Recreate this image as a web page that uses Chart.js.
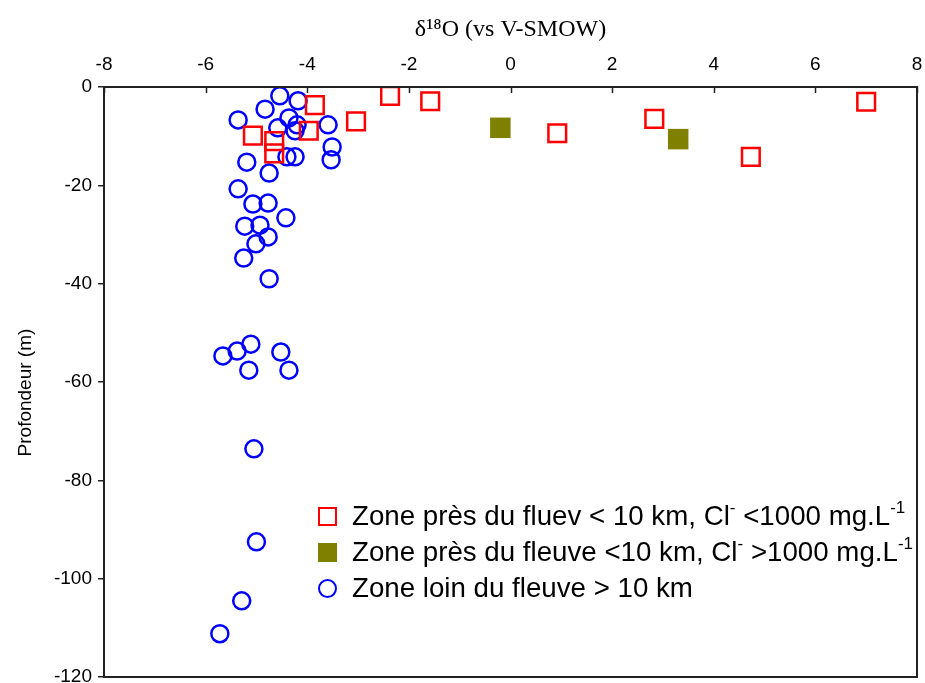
<!DOCTYPE html>
<html>
<head>
<meta charset="utf-8">
<script src="https://cdn.jsdelivr.net/npm/chart.js@4.4.1/dist/chart.umd.min.js"></script>
<style>
  html, body { margin: 0; padding: 0; background: #fff; }
  #wrap { position: relative; width: 925px; height: 683px; }
  #legend { position: absolute; left: 318px; top: 498px; font-family: 'Liberation Sans', Arial, sans-serif; font-size: 27.7px; color: #000; }
  #legend .row { height: 36px; line-height: 36px; white-space: nowrap; }
  #legend .mk { display: inline-block; box-sizing: border-box; width: 19px; height: 19px; vertical-align: -1px; margin-right: 15px; }
  #legend sup { font-size: 17px; vertical-align: 12px; line-height: 0; }
</style>
</head>
<body>
<div id="wrap">
  <canvas id="chart" width="925" height="683"></canvas>
  <div id="legend">
    <div class="row"><span class="mk" style="border:2.5px solid #ff0000"></span>Zone près du fluev &lt; 10 km, Cl<sup>-</sup> &lt;1000 mg.L<sup>-1</sup></div>
    <div class="row"><span class="mk" style="background:#808000"></span>Zone près du fleuve &lt;10 km, Cl<sup>-</sup> &gt;1000 mg.L<sup>-1</sup></div>
    <div class="row"><span class="mk" style="border:2.5px solid #0000ff;border-radius:50%"></span>Zone loin du fleuve &gt; 10 km</div>
  </div>
</div>
<script>
// delta 18O (x) vs depth (y)
const nearLowX = [7.0, 4.73, 2.83, 0.92, -1.58, -2.37, -3.04, -3.85, -3.97, -5.07, -4.65, -4.65];
const nearLowY = [-3.0, -14.2, -6.5, -9.4, -2.9, -1.8, -7.0, -3.7, -8.9, -9.9, -11.0, -13.5];

const nearHighX = [-0.2, 3.3];
const nearHighY = [-8.3, -10.6];

const farX = [-4.54, -4.18, -4.83, -5.36, -4.36, -4.20, -3.59, -4.58, -4.24, -3.51, -3.53, -5.19,
  -4.40, -4.24, -4.75, -5.36, -5.07, -4.77, -4.42, -5.23, -4.93, -4.77, -5.01, -5.25, -4.75,
  -5.66, -5.38, -5.11, -5.15, -4.52, -4.36, -5.05, -5.0, -5.29, -5.72];
const farY = [-1.8, -2.8, -4.5, -6.7, -6.3, -7.7, -7.7, -8.3, -8.9, -12.2, -14.8, -15.3,
  -14.2, -14.2, -17.5, -20.7, -23.8, -23.6, -26.6, -28.3, -28.1, -30.5, -31.9, -34.8, -39.0,
  -54.7, -53.7, -52.3, -57.6, -53.9, -57.6, -73.6, -92.5, -104.5, -111.2];

const xTicks = [-8, -6, -4, -2, 0, 2, 4, 6, 8];
const yTicks = [0, -20, -40, -60, -80, -100, -120];

function pts(xs, ys) {
    return xs.map((x, i) => ({ x: x, y: ys[i] }));
}

// frame around the plot + short ticks inside the top edge
const framePlugin = {
    id: 'frame',
    afterDraw(chart) {
        const ctx = chart.ctx;
        const a = chart.chartArea;
        const xs = chart.scales.x;
        ctx.save();
        ctx.strokeStyle = '#222';
        ctx.lineWidth = 2;
        ctx.strokeRect(a.left, a.top, a.right - a.left, a.bottom - a.top);
        ctx.lineWidth = 1.5;
        xTicks.forEach(v => {
            const px = Math.round(xs.getPixelForValue(v)) + 0.5;
            ctx.beginPath();
            ctx.moveTo(px, a.top);
            ctx.lineTo(px, a.top + 6);
            ctx.stroke();
        });
        ctx.restore();
    }
};

const tickFont = { family: "'Liberation Sans', Arial, sans-serif", size: 19 };

new Chart(document.getElementById('chart'), {
    type: 'scatter',
    data: {
        datasets: [{
            label: 'Zone près du fluev < 10 km, Cl- <1000 mg.L-1',
            data: pts(nearLowX, nearLowY),
            pointStyle: 'rect',
            pointRadius: 12.5,
            pointHoverRadius: 12.5,
            borderColor: '#ff0000',
            backgroundColor: 'rgba(0,0,0,0)',
            borderWidth: 2.5
        }, {
            label: 'Zone près du fleuve <10 km, Cl- >1000 mg.L-1',
            data: pts(nearHighX, nearHighY),
            pointStyle: 'rect',
            pointRadius: 14.5,
            pointHoverRadius: 14.5,
            borderColor: '#808000',
            backgroundColor: '#808000',
            borderWidth: 0
        }, {
            label: 'Zone loin du fleuve > 10 km',
            data: pts(farX, farY),
            pointStyle: 'circle',
            pointRadius: 8.5,
            pointHoverRadius: 8.5,
            borderColor: '#0000ff',
            backgroundColor: 'rgba(0,0,0,0)',
            borderWidth: 2.5
        }]
    },
    options: {
        responsive: false,
        animation: false,
        layout: { autoPadding: false, padding: { left: 0, right: 8, top: 0, bottom: 6 } },
        plugins: { legend: { display: false }, tooltip: { enabled: false } },
        scales: {
            x: {
                type: 'linear',
                position: 'top',
                min: -8,
                max: 8,
                afterBuildTicks: s => { s.ticks = xTicks.map(v => ({ value: v })); },
                afterFit: s => { s.height = 87; s.paddingLeft = 0; s.paddingRight = 0; },
                ticks: { font: tickFont, color: '#000', padding: 11, maxRotation: 0 },
                grid: { drawOnChartArea: false, drawTicks: false },
                border: { display: false },
                title: {
                    display: true,
                    text: 'δ¹⁸O (vs V-SMOW)',
                    color: '#000',
                    font: { family: "'Liberation Serif', 'Times New Roman', serif", size: 24 },
                    padding: { top: 15, bottom: 0 }
                }
            },
            y: {
                type: 'linear',
                min: -120,
                max: 0,
                afterBuildTicks: s => { s.ticks = yTicks.map(v => ({ value: v })); },
                afterFit: s => { s.width = 104; s.paddingTop = 0; s.paddingBottom = 0; },
                ticks: { font: tickFont, color: '#000', padding: 6 },
                grid: { drawOnChartArea: false, drawTicks: true, tickLength: 6, color: '#222', lineWidth: 1.5 },
                border: { display: false },
                title: {
                    display: true,
                    // trailing spaces push the rotated title a little lower, as in the original
                    text: 'Profondeur (m)    ',
                    color: '#000',
                    font: { family: "'Liberation Sans', Arial, sans-serif", size: 19 },
                    padding: { top: 14, bottom: 0 }
                }
            }
        }
    },
    plugins: [framePlugin]
});
</script>
</body>
</html>
